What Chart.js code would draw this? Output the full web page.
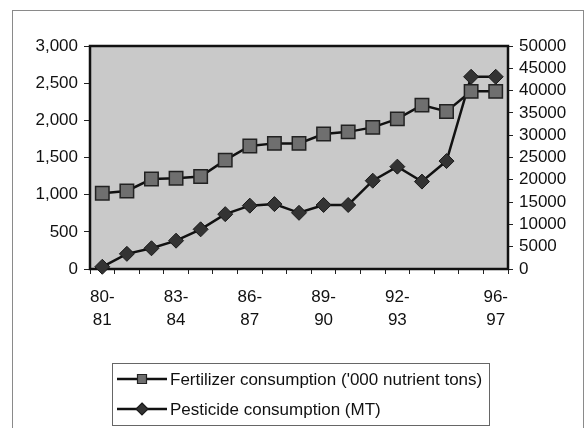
<!DOCTYPE html>
<html>
<head>
<meta charset="utf-8">
<script src="https://cdn.jsdelivr.net/npm/chart.js@4/dist/chart.umd.min.js"></script>
<style>
  html, body { margin: 0; padding: 0; background: #fff; }
  #wrap { width: 585px; height: 428px; }
</style>
</head>
<body>
<div id="wrap"><canvas id="chart" width="585" height="428"></canvas></div>
<script>
// data
const years = ['80-81', '81-82', '82-83', '83-84', '84-85', '85-86', '86-87', '87-88', '88-89',
  '89-90', '90-91', '91-92', '92-93', '93-94', '94-95', '95-96', '96-97'];
const shownYears = ['80-81', '83-84', '86-87', '89-90', '92-93', '96-97'];
const fertilizer = [1020, 1050, 1210, 1220, 1245, 1465, 1655, 1690, 1690, 1815, 1845, 1905, 2020, 2205, 2120, 2390, 2390];
const pesticide = [500, 3400, 4650, 6350, 8900, 12300, 14200, 14550, 12600, 14350, 14350, 19800, 22950, 19600, 24200, 43100, 43100];
const leftTicks = [0, 500, 1000, 1500, 2000, 2500, 3000];
const rightTicks = [0, 5000, 10000, 15000, 20000, 25000, 30000, 35000, 40000, 45000, 50000];

const legendNames = ["Fertilizer consumption ('000 nutrient tons)", 'Pesticide consumption (MT)'];

const font = { family: 'Liberation Sans, Arial, sans-serif', size: 17 };

const decorations = {
  id: 'decorations',
  beforeDraw(chart) {
    const ctx = chart.ctx;
    const a = chart.chartArea;
    ctx.save();
    // outer frame
    ctx.strokeStyle = '#8a8a8a';
    ctx.lineWidth = 1;
    ctx.strokeRect(12.5, 10.5, 571, 430);
    // plot background
    ctx.fillStyle = '#c9c9c9';
    ctx.fillRect(a.left, a.top, a.right - a.left, a.bottom - a.top);
    ctx.restore();
  },
  beforeDatasetsDraw(chart) {
    const ctx = chart.ctx;
    const a = chart.chartArea;
    ctx.save();
    ctx.strokeStyle = '#111';
    ctx.lineWidth = 2.5;
    ctx.strokeRect(a.left, a.top, a.right - a.left, a.bottom - a.top);
    ctx.restore();
  },
  afterDraw(chart) {
    const ctx = chart.ctx;
    ctx.save();
    ctx.strokeStyle = '#666';
    ctx.lineWidth = 1;
    ctx.strokeRect(112.5, 363.5, 377, 62);
    chart.data.datasets.forEach(function(ds, i) {
      const y = 379 + i * 30;
      ctx.strokeStyle = ds.borderColor;
      ctx.lineWidth = 2.5;
      ctx.beginPath();
      ctx.moveTo(117, y);
      ctx.lineTo(167, y);
      ctx.stroke();
      ctx.fillStyle = ds.pointBackgroundColor;
      ctx.strokeStyle = ds.pointBorderColor;
      ctx.lineWidth = 1.2;
      ctx.beginPath();
      if (ds.pointStyle === 'rect') {
        ctx.rect(137.5, y - 4.5, 9, 9);
      } else {
        ctx.moveTo(142, y - 6);
        ctx.lineTo(148, y);
        ctx.lineTo(142, y + 6);
        ctx.lineTo(136, y);
        ctx.closePath();
      }
      ctx.fill();
      ctx.stroke();
      ctx.fillStyle = '#111';
      ctx.font = '17px ' + font.family;
      ctx.textBaseline = 'middle';
      ctx.fillText(legendNames[i], 170, y + 1);
    });
    ctx.restore();
  }
};

new Chart(document.getElementById('chart').getContext('2d'), {
  type: 'line',
  data: {
    labels: years,
    datasets: [
      {
        label: legendNames[0],
        data: fertilizer,
        yAxisID: 'y',
        borderColor: '#111',
        borderWidth: 2.5,
        pointStyle: 'rect',
        pointRadius: 9.5,
        pointBackgroundColor: '#6f6f6f',
        pointBorderColor: '#222',
        pointBorderWidth: 1.5,
        clip: false
      },
      {
        label: legendNames[1],
        data: pesticide,
        yAxisID: 'y1',
        borderColor: '#111',
        borderWidth: 2.5,
        pointStyle: 'rectRot',
        pointRadius: 7.5,
        pointBackgroundColor: '#333',
        pointBorderColor: '#1a1a1a',
        pointBorderWidth: 1,
        clip: false
      }
    ]
  },
  options: {
    responsive: false,
    animation: false,
    layout: { padding: { top: 46, left: 0, right: 0, bottom: 89 } },
    plugins: { legend: { display: false }, tooltip: { enabled: false } },
    scales: {
      x: {
        offset: true,
        grid: { offset: true, drawOnChartArea: false, tickLength: 5, color: '#222' },
        border: { display: false },
        afterFit(scale) { scale.height = 70; },
        ticks: {
          autoSkip: false,
          maxRotation: 0,
          padding: 12,
          color: '#111',
          font: Object.assign({ lineHeight: 1.35 }, font),
          callback(value, index) {
            const lab = years[index];
            if (shownYears.indexOf(lab) < 0) return '';
            const parts = lab.split('-');
            return [parts[0] + '-', parts[1]];
          }
        }
      },
      y: {
        position: 'left',
        min: 0,
        max: 3000,
        afterFit(scale) { scale.width = 90; },
        afterBuildTicks(scale) { scale.ticks = leftTicks.map(v => ({ value: v })); },
        grid: { drawOnChartArea: false, tickLength: 6, color: '#222' },
        border: { display: false },
        ticks: {
          autoSkip: false,
          padding: 6,
          color: '#111',
          font: font,
          callback: v => v.toLocaleString('en-US')
        }
      },
      y1: {
        position: 'right',
        min: 0,
        max: 50000,
        afterFit(scale) { scale.width = 77; },
        afterBuildTicks(scale) { scale.ticks = rightTicks.map(v => ({ value: v })); },
        grid: { drawOnChartArea: false, tickLength: 5, color: '#222' },
        border: { display: false },
        ticks: {
          autoSkip: false,
          padding: 6,
          color: '#111',
          font: font,
          callback: v => String(v)
        }
      }
    }
  },
  plugins: [decorations]
});
</script>
</body>
</html>
